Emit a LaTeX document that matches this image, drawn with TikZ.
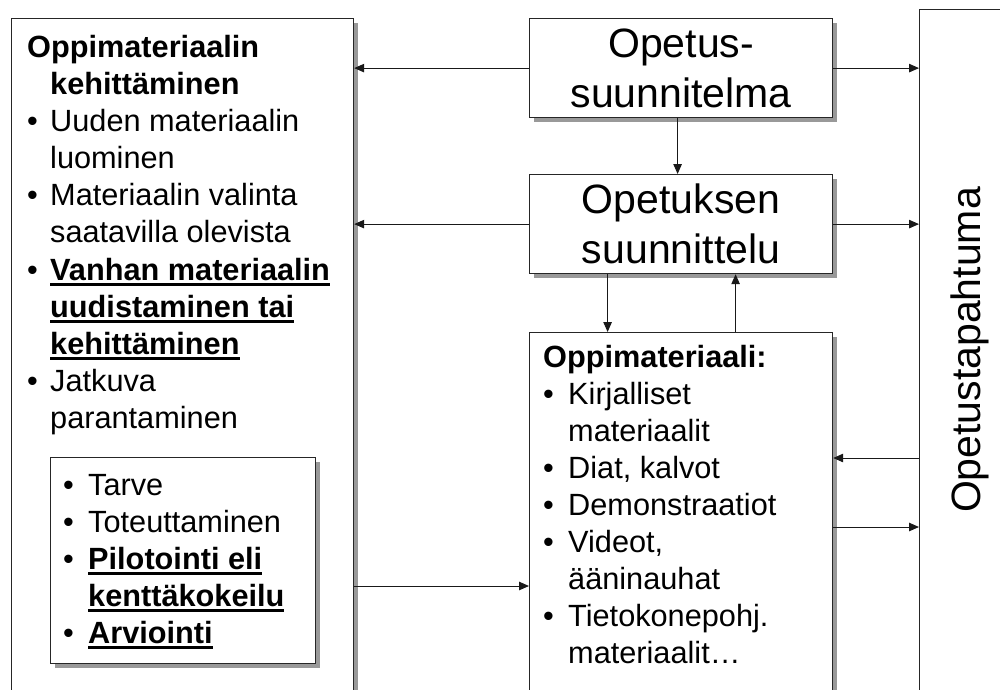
\documentclass[tikz,border=0pt]{standalone}
\usepackage{fontspec}
\setmainfont{Liberation Sans}
\usetikzlibrary{arrows.meta,shadows}
\newsavebox\ulsave
\newcommand\ulb[1]{\sbox\ulsave{\bfseries #1}\rlap{\rule[-6pt]{\wd\ulsave}{3pt}}\usebox\ulsave}
\tikzset{
  boxed/.style={draw=black!85, line width=1.2pt, fill=white, rectangle, inner sep=0pt,
    drop shadow={shadow xshift=4pt, shadow yshift=-4pt, fill=black!40, opacity=1}},
  txt/.style={anchor=base west, inner sep=0pt, font=\fontsize{30.7}{37}\selectfont},
  bigtxt/.style={font=\fontsize{41}{50}\selectfont, align=center},
  arr/.style={line width=1pt, draw=black!90, -{Triangle[length=10pt,width=8.5pt]}},
}
\begin{document}
\begin{tikzpicture}[x=1pt,y=-1pt]
\useasboundingbox (0,0) rectangle (1000,689);
\clip (0,0) rectangle (1000,689);
\fill[white] (0,0) rectangle (1000,689);
% boxes
\node[boxed, anchor=north west, minimum width=342pt, minimum height=700pt] (lb) at (11,18) {};
\node[boxed, anchor=north west, minimum width=265pt, minimum height=206pt] (ib) at (50,457) {};
\node[boxed, bigtxt, anchor=north west, minimum width=303pt, minimum height=99pt] (ob) at (529,18) {Opetus-\\suunnitelma};
\node[boxed, bigtxt, anchor=north west, minimum width=303pt, minimum height=99pt] (sb) at (529,174) {Opetuksen\\suunnittelu};
\node[boxed, anchor=north west, minimum width=303pt, minimum height=400pt] (mb) at (529,332) {};
\node[boxed, anchor=north west, minimum width=100pt, minimum height=720pt] (rb) at (919,9) {};
\node[font=\fontsize{41}{50}\selectfont, rotate=90, anchor=base, inner sep=0pt] (rt) at (980,350) {Opetustapahtuma};
% left box text
\node[txt] (l1) at (27,57) {\bfseries Oppimateriaalin};
\node[txt] (l2) at (50,94) {\bfseries kehittäminen};
\node[txt] (b1) at (27,131) {•};
\node[txt] (l3) at (50,131) {Uuden materiaalin};
\node[txt] (l4) at (50,168) {luominen};
\node[txt] (b2) at (27,205) {•};
\node[txt] (l5) at (50,205) {Materiaalin valinta};
\node[txt] (l6) at (50,242) {saatavilla olevista};
\node[txt] (b3) at (27,280) {•};
\node[txt] (l7) at (50,280) {\ulb{Vanhan materiaalin}};
\node[txt] (l8) at (50,317) {\ulb{uudistaminen tai}};
\node[txt] (l9) at (50,354) {\ulb{kehittäminen}};
\node[txt] (b4) at (27,391) {•};
\node[txt] (l10) at (50,391) {Jatkuva};
\node[txt] (l11) at (50,428) {parantaminen};
% inner box text
\node[txt] (c1) at (63,495) {•};
\node[txt] (i1) at (88,495) {Tarve};
\node[txt] (c2) at (63,532) {•};
\node[txt] (i2) at (88,532) {Toteuttaminen};
\node[txt] (c3) at (63,569) {•};
\node[txt] (i3) at (88,569) {\ulb{Pilotointi eli}};
\node[txt] (i4) at (88,606) {\ulb{kenttäkokeilu}};
\node[txt] (c4) at (63,643) {•};
\node[txt] (i5) at (88,643) {\ulb{Arviointi}};
% material box text
\node[txt] (m0) at (543,367) {\bfseries Oppimateriaali:};
\node[txt] (d1) at (543,404) {•};
\node[txt] (m1) at (568,404) {Kirjalliset};
\node[txt] (m2) at (568,441) {materiaalit};
\node[txt] (d2) at (543,478) {•};
\node[txt] (m3) at (568,478) {Diat, kalvot};
\node[txt] (d3) at (543,515) {•};
\node[txt] (m4) at (568,515) {Demonstraatiot};
\node[txt] (d4) at (543,552) {•};
\node[txt] (m5) at (568,552) {Videot,};
\node[txt] (m6) at (568,589) {ääninauhat};
\node[txt] (d5) at (543,626) {•};
\node[txt] (m7) at (568,626) {Tietokonepohj.};
\node[txt] (m8) at (568,663) {materiaalit…};
% connectors
\draw[arr] (ob.west) -- (ob.west -| lb.east);
\draw[arr] (sb.west) -- (sb.west -| lb.east);
\draw[arr] (ob.east) -- (ob.east -| rb.west);
\draw[arr] (sb.east) -- (sb.east -| rb.west);
\draw[arr] ([xshift=-3.5pt]ob.south) -- ([xshift=-3.5pt]sb.north);
\draw[arr] ([xshift=-73.5pt]sb.south) -- ([xshift=-73.5pt]mb.north);
\draw[arr] ([xshift=54.5pt]mb.north) -- ([xshift=54.5pt]sb.south);
\draw[arr] (rb.west |- 0,458) -- (mb.east |- 0,458);
\draw[arr] (mb.east |- 0,527) -- (rb.west |- 0,527);
\draw[arr] (lb.east |- 0,586) -- (mb.west |- 0,586);
\end{tikzpicture}
\end{document}
